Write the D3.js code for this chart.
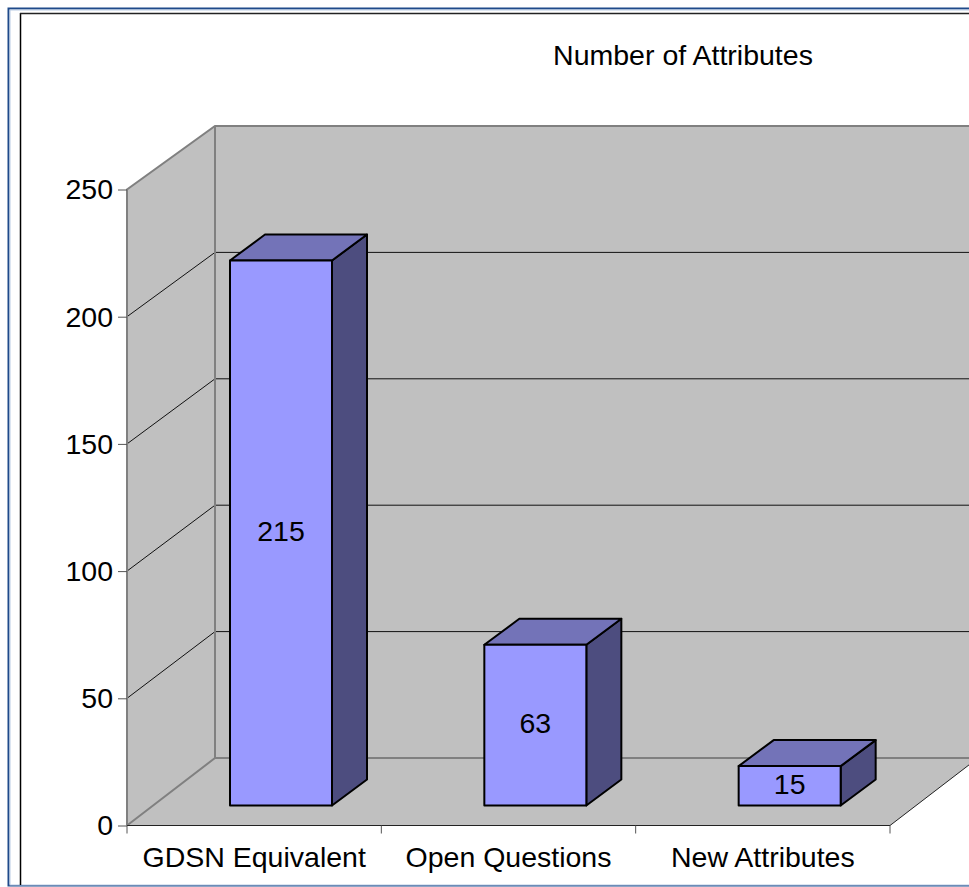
<!DOCTYPE html>
<html>
<head>
<meta charset="utf-8">
<script src="https://cdn.jsdelivr.net/npm/d3@7"></script>
<style>
  html, body { margin: 0; padding: 0; background: #fff; overflow: hidden; }
  text { font-family: "Liberation Sans", Arial, sans-serif; fill: #000; }
</style>
</head>
<body>
<svg id="chart-area" style="display:block"></svg>
<script>
const chartTitle = "Number of Attributes"
const categories = ["GDSN Equivalent", "Open Questions", "New Attributes"]
const values = [215, 63, 15]
const yTicks = [0, 50, 100, 150, 200, 250]

const svgWidth = 969
const svgHeight = 887
const fontSize = 28.5
const wallDepth = { x: 88, y: 66 }
const barDepth = { x: 35, y: 26 }

const svg = d3.select("#chart-area")
  .attr("width", svgWidth)
  .attr("height", svgHeight)

// front edge of the plot box, back wall and bars each have their own y scale
const xScale = d3.scaleBand().domain(categories).range([127, 890])
const yFront = d3.scaleLinear().domain([0, 250]).range([825.5, 189.5])
const yBack = d3.scaleLinear().domain([0, 250]).range([758, 126])
const yBar = d3.scaleLinear().domain([0, 250]).range([804, 172])
const barBase = 805.5
const barOffset = 103
const barWidth = 102

const x0 = xScale.range()[0]
const x1 = xScale.range()[1]
const xBack = x0 + wallDepth.x

// frame
svg.append("rect").attr("x", 8.5).attr("y", 8.5).attr("width", 975).attr("height", 877)
  .attr("fill", "#fff").attr("stroke", "#1f4a8a").attr("stroke-width", 2)
svg.append("rect").attr("x", 10).attr("y", 10).attr("width", 975).attr("height", 875)
  .attr("fill", "#fff").attr("stroke", "#b9cbe3").attr("stroke-width", 1)
svg.append("line").attr("x1", 20.5).attr("x2", 20.5).attr("y1", 13).attr("y2", 885)
  .attr("stroke", "#000").attr("stroke-width", 1.5)
svg.append("line").attr("x1", 20).attr("x2", svgWidth).attr("y1", 13.5).attr("y2", 13.5)
  .attr("stroke", "#222").attr("stroke-width", 1.5)

// back wall, side wall, floor
svg.append("rect").attr("x", xBack).attr("y", yBack(250))
  .attr("width", x1 + wallDepth.x - xBack).attr("height", yBack(0) - yBack(250))
  .attr("fill", "#c0c0c0")
svg.append("path")
  .attr("d", d3.line()([[x0, yFront(0)], [x0, yFront(250)], [xBack, yBack(250)], [xBack, yBack(0)]]) + "Z")
  .attr("fill", "#c0c0c0")
svg.append("path")
  .attr("d", d3.line()([[x0, yFront(0)], [xBack, yBack(0)], [x1 + wallDepth.x, yBack(0)], [x1, yFront(0)]]) + "Z")
  .attr("fill", "#c0c0c0")

// gridlines
const gridTicks = yTicks.filter(d => d > 0 && d < 250)
svg.append("g").selectAll("path")
  .data(gridTicks)
  .join("path")
  .attr("d", d => d3.line()([[x0, yFront(d)], [xBack, yBack(d)], [svgWidth + 20, yBack(d)]]))
  .attr("fill", "none")
  .attr("stroke", "#111")
  .attr("stroke-width", 1)

// wall edges
const edges = [
  [[x0, yFront(0)], [x0, yFront(250)], [xBack, yBack(250)], [svgWidth + 20, yBack(250)]],
  [[xBack, yBack(250)], [xBack, yBack(0)]],
  [[x0, yFront(0)], [xBack, yBack(0)], [svgWidth + 20, yBack(0)]]
]
svg.append("g").selectAll("path")
  .data(edges)
  .join("path")
  .attr("d", d => d3.line()(d))
  .attr("fill", "none")
  .attr("stroke", "#808080")
  .attr("stroke-width", 2)

// floor front and right edge
svg.append("path")
  .attr("d", d3.line()([[x0, yFront(0)], [x1, yFront(0)], [x1 + wallDepth.x, yBack(0)]]))
  .attr("fill", "none")
  .attr("stroke", "#222")
  .attr("stroke-width", 1)

// axes
const yAxis = svg.append("g")
  .attr("transform", `translate(${x0},0)`)
  .call(d3.axisLeft(yFront).tickValues(yTicks).tickSize(9).tickPadding(5).tickSizeOuter(0))
yAxis.select(".domain").remove()
yAxis.selectAll("line").attr("stroke", "#555")
yAxis.selectAll("text").attr("font-size", fontSize).attr("dy", "0.33em")

const xAxis = svg.append("g")
  .attr("transform", `translate(0,${yFront(0)})`)
  .call(d3.axisBottom(xScale).tickSize(0).tickPadding(21))
xAxis.select(".domain").remove()
xAxis.selectAll("text").attr("font-size", fontSize)

svg.append("g").selectAll("line")
  .data(d3.range(categories.length + 1))
  .join("line")
  .attr("x1", i => x0 + i * xScale.bandwidth())
  .attr("x2", i => x0 + i * xScale.bandwidth())
  .attr("y1", yFront(0))
  .attr("y2", yFront(0) + 8)
  .attr("stroke", "#555")

// bars
const bars = svg.append("g").selectAll("g")
  .data(categories.map((c, i) => ({ c, v: values[i] })))
  .join("g")

bars.append("path")
  .attr("d", d => {
    const l = xScale(d.c) + barOffset, r = l + barWidth, t = yBar(d.v)
    return d3.line()([[r, t], [r + barDepth.x, t - barDepth.y], [r + barDepth.x, barBase - barDepth.y], [r, barBase]]) + "Z"
  })
  .attr("fill", "#4d4d7f")
bars.append("path")
  .attr("d", d => {
    const l = xScale(d.c) + barOffset, r = l + barWidth, t = yBar(d.v)
    return d3.line()([[l, t], [l + barDepth.x, t - barDepth.y], [r + barDepth.x, t - barDepth.y], [r, t]]) + "Z"
  })
  .attr("fill", "#7373b8")
bars.append("rect")
  .attr("x", d => xScale(d.c) + barOffset)
  .attr("y", d => yBar(d.v))
  .attr("width", barWidth)
  .attr("height", d => barBase - yBar(d.v))
  .attr("fill", "#9999ff")
bars.selectAll("path, rect")
  .attr("stroke", "#000")
  .attr("stroke-width", 2)
  .attr("stroke-linejoin", "round")

bars.append("text")
  .attr("x", d => xScale(d.c) + barOffset + barWidth / 2)
  .attr("y", d => (yBar(d.v) + barBase) / 2 + 8)
  .attr("text-anchor", "middle")
  .attr("font-size", fontSize)
  .text(d => d.v)

svg.append("text")
  .attr("x", 683)
  .attr("y", 65)
  .attr("text-anchor", "middle")
  .attr("font-size", fontSize)
  .text(chartTitle)
</script>
</body>
</html>
